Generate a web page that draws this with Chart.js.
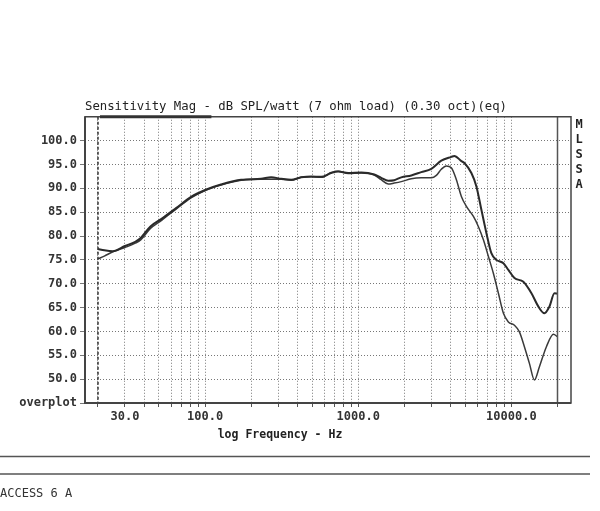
<!DOCTYPE html>
<html>
<head>
<meta charset="utf-8">
<script src="https://cdn.jsdelivr.net/npm/chart.js@4.4.1/dist/chart.umd.min.js"></script>
<style>
	body { margin: 0; background: #fff; }
	#wrap { width: 600px; height: 511px; }
</style>
</head>
<body>
<div id="wrap"><canvas id="mlssa" width="600" height="511"></canvas></div>
<script>
// curve A - upper trace above 3 kHz (thicker)
const freqA = [20, 22, 25, 30, 35, 38, 44, 52, 65, 81, 101, 127, 172, 232, 270, 314, 365, 424, 493, 573, 666, 740, 860, 1047, 1273, 1413, 1570, 1718, 1910, 2220, 2580, 3000, 3486, 4053, 4240, 4715, 4932, 5481, 5909, 6370, 6870, 7400, 7980, 8870, 9555, 10470, 11970, 13520, 15010, 16430, 17710, 19110, 20000];
const dbA = [77.3, 77.0, 76.8, 77.9, 78.8, 79.6, 82.0, 83.6, 85.9, 88.2, 89.7, 90.8, 91.8, 92.0, 92.3, 92.0, 91.8, 92.3, 92.5, 92.4, 93.2, 93.5, 93.2, 93.3, 92.9, 92.2, 91.6, 91.7, 92.3, 92.7, 93.4, 94.1, 95.8, 96.6, 96.8, 95.7, 95.3, 93.2, 90.4, 85.5, 80.6, 76.4, 75.0, 74.3, 72.9, 71.2, 70.4, 68.0, 65.2, 63.8, 65.2, 68.0, 67.9];

// curve B - lower trace above 3 kHz
const freqB = [20, 22, 25, 30, 35, 38, 44, 52, 65, 81, 101, 127, 172, 232, 270, 314, 365, 424, 493, 573, 666, 740, 860, 1047, 1273, 1413, 1570, 1718, 1910, 2220, 2580, 3000, 3235, 3486, 3758, 4053, 4373, 4715, 5084, 5650, 6083, 6565, 7080, 7625, 8225, 8870, 9555, 10470, 11280, 12160, 13110, 14140, 15240, 16930, 18820, 20000];
const dbB = [75.2, 75.8, 76.7, 77.6, 78.5, 79.2, 81.6, 83.3, 85.7, 88.0, 89.6, 90.7, 91.7, 91.9, 91.9, 91.9, 91.7, 92.3, 92.4, 92.3, 93.3, 93.6, 93.1, 93.2, 92.8, 91.8, 90.9, 91.1, 91.4, 92.0, 92.2, 92.2, 92.7, 94.0, 94.7, 94.3, 91.8, 88.3, 86.2, 84.1, 82.0, 79.2, 75.7, 72.2, 68.0, 63.8, 62.0, 61.3, 59.9, 56.8, 53.3, 49.8, 52.6, 56.8, 59.4, 58.9];

const gridFreqs = [20, 30, 40, 50, 60, 70, 80, 90, 100, 200, 300, 400, 500, 600, 700, 800, 900, 1000, 2000, 3000, 4000, 5000, 6000, 7000, 8000, 9000, 10000, 20000];
const xTickLabels = [30, 100, 1000, 10000];
const yTicks = [45, 50, 55, 60, 65, 70, 75, 80, 85, 90, 95, 100];

const titleText = 'Sensitivity Mag - dB SPL/watt (7 ohm load) (0.30 oct)(eq)';
const MONO = '"DejaVu Sans Mono", "Liberation Mono", monospace';

const toPoints = (xs, ys) => xs.map((f, i) => ({ x: f, y: ys[i] }));

// frame, marker lines and the page text round the plot
const decor = {
	id: 'decor',
	afterDraw(chart) {
		const { ctx, chartArea: a, scales: { x } } = chart;
		ctx.save();
		// 20 Hz marker (dashed) and 20 kHz marker (solid)
		ctx.strokeStyle = '#333';
		ctx.lineWidth = 1.5;
		ctx.setLineDash([3, 2]);
		const x20 = x.getPixelForValue(20);
		ctx.beginPath(); ctx.moveTo(x20, a.top); ctx.lineTo(x20, a.bottom); ctx.stroke();
		ctx.setLineDash([]);
		const x20k = x.getPixelForValue(20000);
		ctx.strokeStyle = '#555';
		ctx.beginPath(); ctx.moveTo(x20k, a.top); ctx.lineTo(x20k, a.bottom); ctx.stroke();

		// frame
		ctx.strokeStyle = '#444';
		ctx.lineWidth = 1.5;
		ctx.strokeRect(a.left, a.top, a.right - a.left, a.bottom - a.top);
		ctx.lineWidth = 2;
		ctx.beginPath(); ctx.moveTo(a.left, a.top); ctx.lineTo(a.left, a.bottom); ctx.lineTo(a.right, a.bottom); ctx.stroke();

		// bar on top edge
		ctx.strokeStyle = '#333';
		ctx.lineWidth = 3;
		ctx.beginPath(); ctx.moveTo(x20 + 2, a.top); ctx.lineTo(x.getPixelForValue(110), a.top); ctx.stroke();

		// axis title
		ctx.fillStyle = '#222';
		ctx.font = 'bold 11.5px ' + MONO;
		ctx.textAlign = 'center';
		ctx.textBaseline = 'middle';
		ctx.fillText('log Frequency - Hz', 280, 435);

		// MLSSA column
		ctx.font = 'bold 12px ' + MONO;
		'MLSSA'.split('').forEach((ch, i) => ctx.fillText(ch, 579, 125 + i * 15));

		// rules and footer
		ctx.strokeStyle = '#555';
		ctx.lineWidth = 1.5;
		[456.5, 474].forEach(yy => {
			ctx.beginPath(); ctx.moveTo(0, yy); ctx.lineTo(590, yy); ctx.stroke();
		});
		ctx.font = '12px ' + MONO;
		ctx.textAlign = 'left';
		ctx.fillStyle = '#333';
		ctx.fillText('ACCESS 6 A', 0, 494);
		ctx.restore();
	}
};

new Chart(document.getElementById('mlssa'), {
	type: 'line',
	plugins: [decor],
	data: {
		datasets: [{
			label: 'A',
			data: toPoints(freqA, dbA),
			borderColor: '#2a2a2a',
			borderWidth: 2,
			pointRadius: 0,
			tension: 0.3,
			cubicInterpolationMode: 'monotone',
		}, {
			label: 'B',
			data: toPoints(freqB, dbB),
			borderColor: '#3a3a3a',
			borderWidth: 1.5,
			pointRadius: 0,
			tension: 0.3,
			cubicInterpolationMode: 'monotone',
		}],
	},
	options: {
		responsive: false,
		animation: false,
		layout: { padding: { left: 0, right: 29, top: 0, bottom: 0 } },
		plugins: {
			legend: { display: false },
			tooltip: { enabled: false },
			title: {
				display: true,
				text: titleText,
				align: 'start',
				fullSize: false,
				color: '#222',
				font: { family: MONO, size: 12.3, weight: 'normal' },
				padding: { top: 99, bottom: 3 },
			}
		},
		scales: {
			x: {
				type: 'logarithmic',
				min: 16.45,
				max: 24500,
				afterBuildTicks: s => { s.ticks = gridFreqs.map(v => ({ value: v })); },
				afterFit: s => { s.height = 108; },
				ticks: {
					autoSkip: false,
					maxRotation: 0,
					padding: 3,
					color: '#333',
					font: { family: MONO, size: 12, weight: 'bold' },
					callback: v => xTickLabels.includes(v) ? v.toFixed(1) : '',
				},
				grid: { color: '#777', lineWidth: 1, tickLength: 4, tickColor: '#555', tickBorderDash: [] },
				border: { display: false, dash: [1, 2] },
			},
			y: {
				min: 45,
				max: 105,
				afterBuildTicks: s => { s.ticks = yTicks.map(v => ({ value: v })); },
				afterFit: s => { s.width = 85; },
				ticks: {
					padding: 3,
					color: '#333',
					font: { family: MONO, size: 12, weight: 'bold' },
					callback: v => v === 45 ? 'overplot' : v.toFixed(1),
				},
				grid: { color: '#777', lineWidth: 1, tickLength: 5 },
				border: { display: false, dash: [1, 2] },
			}
		}
	}
});
</script>
</body>
</html>
